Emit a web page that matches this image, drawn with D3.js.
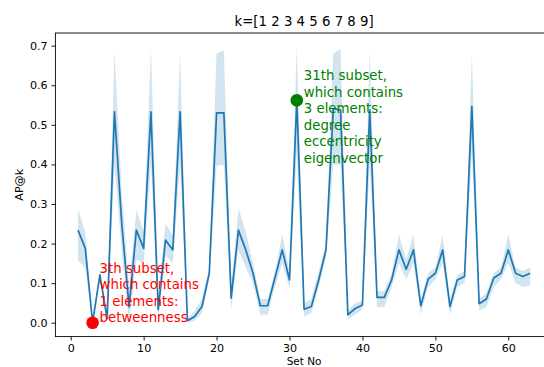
<!DOCTYPE html>
<html>
<head>
<meta charset="utf-8">
<script src="https://cdn.jsdelivr.net/npm/d3@7"></script>
<style>
    body { margin: 0; background: #fff; }
    text { font-family: "DejaVu Sans", sans-serif; }
</style>
</head>
<body>
<svg id="chart" width="544" height="367"></svg>
<script>
// Daten
const setNo = [1, 2, 3, 4, 5, 6, 7, 8, 9, 10, 11, 12, 13, 14, 15, 16, 17, 18, 19, 20, 21,
    22, 23, 24, 25, 26, 27, 28, 29, 30, 31, 32, 33, 34, 35, 36, 37, 38, 39, 40, 41, 42,
    43, 44, 45, 46, 47, 48, 49, 50, 51, 52, 53, 54, 55, 56, 57, 58, 59, 60, 61, 62, 63];

const apMean = [0.234, 0.188, 0.0, 0.121, 0.01, 0.533, 0.25, 0.04, 0.234, 0.188, 0.533,
    0.033, 0.209, 0.184, 0.533, 0.005, 0.016, 0.041, 0.125, 0.53, 0.53, 0.062, 0.234,
    0.184, 0.125, 0.043, 0.043, 0.113, 0.184, 0.108, 0.562, 0.034, 0.041, 0.108, 0.184,
    0.541, 0.537, 0.02, 0.036, 0.045, 0.537, 0.064, 0.064, 0.108, 0.184, 0.135, 0.184,
    0.043, 0.11, 0.125, 0.184, 0.041, 0.108, 0.117, 0.547, 0.048, 0.06, 0.113, 0.125,
    0.184, 0.125, 0.117, 0.125];

const apUpper = [0.287, 0.23, 0.0, 0.13, 0.02, 0.684, 0.33, 0.09, 0.285, 0.23, 0.692,
    0.07, 0.25, 0.22, 0.68, 0.01, 0.03, 0.06, 0.14, 0.68, 0.688, 0.09, 0.289, 0.23,
    0.15, 0.06, 0.06, 0.13, 0.222, 0.13, 0.697, 0.05, 0.06, 0.13, 0.2, 0.68, 0.692,
    0.03, 0.05, 0.055, 0.688, 0.08, 0.08, 0.125, 0.222, 0.16, 0.222, 0.06, 0.125, 0.14,
    0.222, 0.06, 0.12, 0.13, 0.68, 0.06, 0.075, 0.125, 0.14, 0.222, 0.14, 0.13, 0.14];

const apLower = [0.158, 0.138, 0.0, 0.11, 0.0, 0.40, 0.18, 0.0, 0.159, 0.15, 0.40,
    0.01, 0.17, 0.15, 0.40, 0.0, 0.005, 0.025, 0.11, 0.398, 0.398, 0.035, 0.184, 0.14,
    0.10, 0.02, 0.02, 0.09, 0.15, 0.085, 0.43, 0.015, 0.025, 0.09, 0.165, 0.40, 0.40,
    0.01, 0.02, 0.035, 0.40, 0.04, 0.04, 0.09, 0.15, 0.11, 0.15, 0.02, 0.09, 0.11,
    0.15, 0.02, 0.09, 0.10, 0.43, 0.03, 0.04, 0.09, 0.11, 0.15, 0.10, 0.09, 0.095];

const xTicks = [0, 10, 20, 30, 40, 50, 60];
const yTicks = [0.0, 0.1, 0.2, 0.3, 0.4, 0.5, 0.6, 0.7];

// Annotationen
const notes = [
    { set: 3, color: '#ff0000', dy: -50,
      lines: ['3th subset,', 'which contains', '1 elements:', 'betweenness'] },
    { set: 31, color: '#008000', dy: -20,
      lines: ['31th subset,', 'which contains', '3 elements:', 'degree', 'eccentricity', 'eigenvector'] }
];

const rows = setNo.map((s, i) => ({ s, m: apMean[i], lo: apLower[i], hi: apUpper[i] }));

const svg = d3.select('#chart');
const plot = { left: 55.4, right: 552.8, top: 33, bottom: 336.6 };

const x = d3.scaleLinear().domain([-2.1, 66.1]).range([plot.left, plot.right]);
const y = d3.scaleLinear().domain([-0.035, 0.732]).range([plot.bottom, plot.top]);

svg.append('defs').append('clipPath').attr('id', 'clip')
    .append('rect')
    .attr('x', plot.left).attr('y', plot.top)
    .attr('width', plot.right - plot.left).attr('height', plot.bottom - plot.top);

const g = svg.append('g').attr('clip-path', 'url(#clip)');

// Konfidenzband
g.append('path')
    .datum(rows)
    .attr('fill', '#1f77b4')
    .attr('fill-opacity', 0.2)
    .attr('d', d3.area().x(d => x(d.s)).y0(d => y(d.lo)).y1(d => y(d.hi)));

// Linie
g.append('path')
    .datum(rows)
    .attr('fill', 'none')
    .attr('stroke', '#1f77b4')
    .attr('stroke-width', 1.7)
    .attr('stroke-linejoin', 'round')
    .attr('d', d3.line().x(d => x(d.s)).y(d => y(d.m)));

// Achsen
const fs = '11.1px';
const xAxis = svg.append('g')
    .attr('transform', `translate(0,${plot.bottom})`)
    .call(d3.axisBottom(x).tickValues(xTicks).tickFormat(d3.format('d')).tickSize(3.9).tickPadding(3.9));
const yAxis = svg.append('g')
    .attr('transform', `translate(${plot.left},0)`)
    .call(d3.axisLeft(y).tickValues(yTicks).tickFormat(d3.format('.1f')).tickSize(3.9).tickPadding(3.9));

[xAxis, yAxis].forEach(a => {
    a.select('.domain').remove();
    a.selectAll('line').attr('stroke', '#000').attr('stroke-width', 0.9);
    a.selectAll('text')
        .style('font-family', '"DejaVu Sans", sans-serif')
        .style('font-size', fs)
        .attr('fill', '#000');
});

// Rahmen
svg.append('rect')
    .attr('x', plot.left).attr('y', plot.top)
    .attr('width', plot.right - plot.left).attr('height', plot.bottom - plot.top)
    .attr('fill', 'none')
    .attr('stroke', '#000')
    .attr('stroke-width', 0.9);

// Markierte Punkte und Texte
notes.forEach(n => {
    const d = rows.find(r => r.s === n.set);
    svg.append('circle')
        .attr('cx', x(d.s)).attr('cy', y(d.m))
        .attr('r', 6.3)
        .attr('fill', n.color);

    const t = svg.append('text')
        .attr('x', x(d.s) + 7)
        .attr('y', y(d.m) + n.dy)
        .attr('fill', n.color)
        .style('font-size', '13.3px');
    t.selectAll('tspan')
        .data(n.lines)
        .enter()
        .append('tspan')
        .attr('x', x(d.s) + 7)
        .attr('dy', (l, i) => i === 0 ? 0 : 16.5)
        .text(l => l);
});

// Titel und Beschriftungen
svg.append('text')
    .attr('x', (plot.left + plot.right) / 2)
    .attr('y', 26)
    .attr('text-anchor', 'middle')
    .style('font-size', '13.3px')
    .text('k=[1 2 3 4 5 6 7 8 9]');

svg.append('text')
    .attr('x', (plot.left + plot.right) / 2)
    .attr('y', 365)
    .attr('text-anchor', 'middle')
    .style('font-size', '10.5px')
    .text('Set No');

svg.append('text')
    .attr('transform', `translate(23,${(plot.top + plot.bottom) / 2}) rotate(-90)`)
    .attr('text-anchor', 'middle')
    .style('font-size', fs)
    .text('AP@k');
</script>
</body>
</html>
